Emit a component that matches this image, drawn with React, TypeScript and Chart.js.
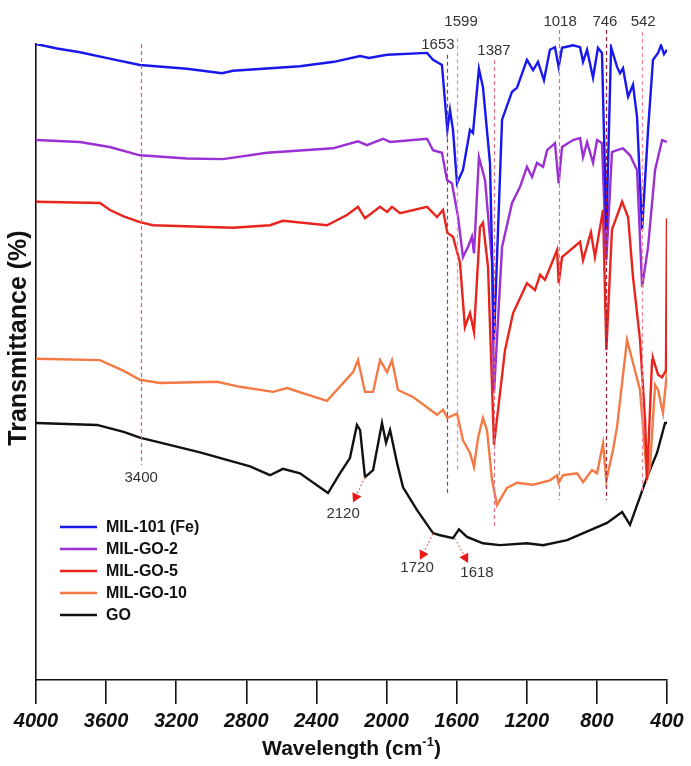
import React, { useEffect, useRef } from "react";
import { Chart, registerables } from "chart.js";

Chart.register(...registerables);

// ---- data (wavenumber in cm-1, transmittance in arbitrary % units) ----
const seriesNames = ["MIL-101 (Fe)", "MIL-GO-2", "MIL-GO-5", "MIL-GO-10", "GO"];

const mil101X = [4000, 3880, 3749, 3580, 3407, 3139, 2939, 2876, 2494, 2300, 2151, 2100, 1997, 1769, 1735, 1684, 1653, 1638, 1621, 1598, 1564, 1524, 1507, 1473, 1450, 1410, 1387, 1341, 1284, 1256, 1199, 1164, 1136, 1102, 1068, 1039, 1018, 999, 936, 896, 879, 856, 822, 794, 771, 746, 719, 685, 668, 651, 622, 594, 571, 542, 508, 480, 451, 434, 417, 400];
const mil101Y = [100, 99.3, 98.7, 97.7, 96.7, 96.1, 95.4, 95.8, 96.5, 97.2, 98.1, 97.8, 98.3, 98.6, 97.5, 96.7, 86.5, 89.6, 86.5, 78.1, 80.2, 86.5, 86.0, 96.1, 93.2, 81.3, 53.5, 88.1, 92.5, 93.1, 97.5, 95.9, 97.2, 94.3, 99.1, 99.5, 96.4, 99.4, 99.8, 99.5, 97.2, 99.1, 94.7, 99.4, 98.6, 70.8, 99.5, 96.4, 95.4, 96.2, 91.7, 93.6, 88.5, 70.8, 86.5, 97.5, 98.6, 99.8, 98.4, 99.1];

const go2X = [4000, 3749, 3580, 3407, 3139, 2933, 2682, 2306, 2163, 2112, 2020, 1980, 1769, 1735, 1684, 1655, 1627, 1592, 1564, 1535, 1513, 1501, 1473, 1438, 1398, 1387, 1341, 1284, 1239, 1199, 1170, 1142, 1107, 1084, 1039, 1018, 999, 936, 896, 879, 856, 822, 799, 771, 746, 714, 685, 651, 611, 571, 542, 508, 468, 428, 400];
const go2Y = [84.9, 84.6, 83.8, 82.5, 82.0, 81.9, 82.9, 83.6, 84.7, 84.1, 85.1, 84.6, 85.1, 83.3, 82.9, 78.6, 78.1, 72.8, 66.5, 68.1, 69.7, 67.1, 82.2, 78.6, 65.6, 45.1, 68.1, 75.0, 77.5, 80.7, 79.1, 81.3, 80.7, 83.3, 84.4, 78.1, 83.8, 84.9, 85.2, 82.2, 84.6, 81.3, 84.9, 84.4, 66.0, 83.0, 83.3, 83.6, 82.5, 80.2, 61.8, 68.1, 80.2, 84.9, 84.6];

const go5X = [4000, 3635, 3578, 3500, 3407, 3332, 2876, 2665, 2591, 2340, 2226, 2163, 2123, 2037, 1997, 1969, 1923, 1769, 1712, 1678, 1653, 1621, 1581, 1553, 1524, 1501, 1467, 1450, 1421, 1387, 1324, 1278, 1199, 1153, 1124, 1096, 1027, 1018, 999, 896, 879, 834, 811, 765, 746, 714, 656, 622, 594, 554, 525, 514, 485, 480, 451, 428, 406, 400];
const go5Y = [75.2, 75.0, 73.9, 72.9, 72.0, 71.5, 71.1, 71.5, 72.2, 71.5, 73.1, 74.4, 72.6, 74.4, 73.6, 74.4, 73.4, 74.4, 72.8, 73.9, 70.3, 69.7, 65.6, 55.5, 57.7, 54.7, 71.2, 71.9, 64.9, 37.0, 51.9, 57.7, 62.4, 61.3, 63.7, 62.9, 67.6, 62.4, 66.5, 68.9, 66.0, 70.4, 66.5, 73.9, 51.9, 70.8, 75.2, 72.8, 63.4, 53.5, 40.9, 31.4, 50.3, 50.6, 48.0, 47.6, 48.7, 72.6];

const go10X = [4000, 3635, 3500, 3407, 3293, 2967, 2836, 2648, 2568, 2340, 2191, 2163, 2123, 2077, 2037, 1997, 1969, 1935, 1849, 1712, 1678, 1653, 1598, 1564, 1524, 1501, 1478, 1450, 1427, 1398, 1370, 1313, 1256, 1164, 1068, 1027, 1018, 993, 913, 879, 828, 799, 765, 746, 708, 685, 628, 600, 554, 514, 497, 468, 451, 423, 400];
const go10Y = [50.5, 50.3, 48.6, 47.2, 46.7, 46.9, 46.1, 45.3, 45.9, 43.9, 48.4, 50.3, 45.3, 45.3, 50.3, 48.4, 50.3, 45.6, 44.5, 41.7, 42.5, 41.2, 41.9, 37.7, 35.7, 33.5, 38.1, 41.2, 39.3, 31.4, 27.5, 30.2, 31.0, 30.7, 31.4, 32.2, 31.0, 32.2, 32.5, 31.1, 33.0, 32.5, 37.2, 31.4, 36.2, 39.8, 53.5, 50.5, 45.6, 31.9, 33.5, 46.4, 45.6, 42.0, 48.5];

const goX = [4000, 3652, 3500, 3407, 3064, 2779, 2665, 2591, 2494, 2334, 2266, 2209, 2169, 2151, 2123, 2077, 2026, 2003, 1980, 1940, 1906, 1826, 1735, 1700, 1621, 1587, 1541, 1450, 1353, 1199, 1107, 970, 742, 656, 611, 514, 457, 411, 400];
const goY = [40.4, 40.1, 39.0, 38.1, 35.8, 33.6, 32.2, 33.2, 32.5, 29.4, 32.5, 34.9, 40.1, 39.3, 31.9, 33.0, 40.4, 37.3, 39.3, 34.1, 30.3, 26.7, 23.1, 22.8, 22.3, 23.7, 22.5, 21.5, 21.2, 21.5, 21.2, 22.0, 24.7, 26.4, 24.4, 31.9, 35.7, 40.4, 40.4];

const xTicks = [4000, 3600, 3200, 2800, 2400, 2000, 1600, 1200, 800, 400];

// marked bands (dashed vertical guides)
const peakPositions = [3400, 1653, 1599, 1387, 1018, 746, 542];
const peakLabels = ["3400", "1653", "1599", "1387", "1018", "746", "542"];
const peakLineTop = [100, 98.3, 100.9, 97.5, 102.2, 102.2, 101.9];
const peakLineBottom = [33.8, 29.1, 32.7, 24.1, 28.3, 28.3, 29.4];
const peakLabelX = [3400, 1707, 1575, 1387, 1010, 754, 536];
const peakLabelY = [31.8, 99.8, 103.5, 98.9, 103.5, 103.5, 103.5];

// GO annotations with arrows
const goNoteLabels = ["2120", "1720", "1618"];
const goNoteFromX = [2123, 1735, 1610];
const goNoteFromY = [31.9, 23.0, 22.3];
const goNoteToX = [2191, 1809, 1535];
const goNoteToY = [27.9, 18.9, 18.4];
const goNoteLabelX = [2248, 1826, 1484];
const goNoteLabelY = [26.1, 17.6, 16.8];

const FONT = "'Liberation Sans', Arial, Helvetica, sans-serif";
const colors = ["#1717ee", "#9b30d4", "#e8241d", "#f47a45", "#111111"];
const peakLineColors = ["#e06060", "#b0304a", "#f08a9a", "#e0708a", "#e0708a", "#a0203a", "#f08a9a"];

function toPoints(xs: number[], ys: number[]) {
  return xs.map((x, i) => ({ x, y: ys[i] }));
}

const overlayPlugin = {
  id: "ftirOverlay",
  afterDatasetsDraw(chart: any) {
    const { ctx } = chart;
    const xs = chart.scales.x;
    const ys = chart.scales.y;
    ctx.save();
    peakPositions.forEach((p, i) => {
      const x = Math.round(xs.getPixelForValue(p)) + 0.5;
      ctx.strokeStyle = peakLineColors[i];
      ctx.lineWidth = 1.2;
      ctx.setLineDash([4, 3]);
      ctx.beginPath();
      ctx.moveTo(x, ys.getPixelForValue(peakLineTop[i]));
      ctx.lineTo(x, ys.getPixelForValue(peakLineBottom[i]));
      ctx.stroke();
    });
    ctx.setLineDash([]);
    ctx.fillStyle = "#333";
    ctx.font = `15px ${FONT}`;
    ctx.textAlign = "center";
    ctx.textBaseline = "middle";
    peakLabels.forEach((t, i) => {
      ctx.fillText(t, xs.getPixelForValue(peakLabelX[i]), ys.getPixelForValue(peakLabelY[i]));
    });
    goNoteLabels.forEach((t, i) => {
      const x1 = xs.getPixelForValue(goNoteFromX[i]);
      const y1 = ys.getPixelForValue(goNoteFromY[i]);
      const x2 = xs.getPixelForValue(goNoteToX[i]);
      const y2 = ys.getPixelForValue(goNoteToY[i]);
      const ang = Math.atan2(y2 - y1, x2 - x1);
      const head = 9;
      const bx = x2 - head * Math.cos(ang);
      const by = y2 - head * Math.sin(ang);
      ctx.strokeStyle = "#f07070";
      ctx.lineWidth = 1.2;
      ctx.setLineDash([2, 2]);
      ctx.beginPath();
      ctx.moveTo(x1, y1);
      ctx.lineTo(bx, by);
      ctx.stroke();
      ctx.setLineDash([]);
      ctx.fillStyle = "#e81818";
      ctx.beginPath();
      ctx.moveTo(x2, y2);
      ctx.lineTo(bx + 5 * Math.sin(ang), by - 5 * Math.cos(ang));
      ctx.lineTo(bx - 5 * Math.sin(ang), by + 5 * Math.cos(ang));
      ctx.closePath();
      ctx.fill();
      ctx.fillStyle = "#333";
      ctx.font = `15px ${FONT}`;
      ctx.fillText(t, xs.getPixelForValue(goNoteLabelX[i]), ys.getPixelForValue(goNoteLabelY[i]));
    });
    ctx.restore();
  },
  afterDraw(chart: any) {
    const { ctx, chartArea } = chart;
    ctx.save();
    const rowY0 = 527;
    const rowGap = 22;
    chart.data.datasets.forEach((ds: any, i: number) => {
      const y = rowY0 + i * rowGap;
      ctx.strokeStyle = ds.borderColor;
      ctx.lineWidth = 2.5;
      ctx.beginPath();
      ctx.moveTo(60, y);
      ctx.lineTo(97, y);
      ctx.stroke();
      ctx.fillStyle = "#111";
      ctx.font = `bold 16px ${FONT}`;
      ctx.textAlign = "left";
      ctx.textBaseline = "middle";
      ctx.fillText(ds.label, 106, y + 1);
    });
    const cx = (chartArea.left + chartArea.right) / 2;
    const ty = 749;
    ctx.fillStyle = "#111";
    ctx.textBaseline = "middle";
    ctx.textAlign = "left";
    const big = `bold 21px ${FONT}`;
    const small = `bold 13px ${FONT}`;
    const p1 = "Wavelength (cm";
    const sup = "-1";
    const p3 = ")";
    ctx.font = big;
    const w1 = ctx.measureText(p1).width;
    const w3 = ctx.measureText(p3).width;
    ctx.font = small;
    const w2 = ctx.measureText(sup).width;
    let sx = cx - (w1 + w2 + w3) / 2;
    ctx.font = big;
    ctx.fillText(p1, sx, ty);
    sx += w1;
    ctx.font = small;
    ctx.fillText(sup, sx, ty - 7);
    sx += w2;
    ctx.font = big;
    ctx.fillText(p3, sx, ty);
    ctx.translate(19, 338);
    ctx.rotate(-Math.PI / 2);
    ctx.textAlign = "center";
    ctx.font = `bold 25px ${FONT}`;
    ctx.fillText("Transmittance (%)", 0, 0);
    ctx.restore();
  },
};

export default function App() {
  const canvasRef = useRef<HTMLCanvasElement | null>(null);

  useEffect(() => {
    if (!canvasRef.current) return;
    const xsList = [mil101X, go2X, go5X, go10X, goX];
    const ysList = [mil101Y, go2Y, go5Y, go10Y, goY];
    const chart = new Chart(canvasRef.current, {
      type: "line",
      data: {
        datasets: seriesNames.map((name, i) => ({
          label: name,
          data: toPoints(xsList[i], ysList[i]),
          borderColor: colors[i],
          backgroundColor: colors[i],
          borderWidth: 2.4,
          pointRadius: 0,
          tension: 0,
          fill: false,
        })),
      },
      options: {
        animation: false,
        responsive: false,
        maintainAspectRatio: false,
        layout: { padding: { left: 0, right: 24, top: 44, bottom: 0 } },
        plugins: {
          legend: { display: false },
          tooltip: { enabled: false },
          title: { display: false },
        },
        scales: {
          x: {
            type: "linear",
            reverse: true,
            min: 400,
            max: 4000,
            afterBuildTicks: (scale: any) => {
              scale.ticks = xTicks.map((v) => ({ value: v }));
            },
            afterFit: (scale: any) => {
              scale.height = 86;
            },
            border: { display: true, color: "#111", width: 1.6 },
            grid: {
              display: true,
              drawOnChartArea: false,
              drawTicks: true,
              tickLength: 24,
              color: "#111",
              lineWidth: 1.6,
            },
            ticks: {
              color: "#111",
              padding: 5,
              maxRotation: 0,
              autoSkip: false,
              callback: (v: any) => String(v),
              font: { family: FONT, size: 20, weight: "bold", style: "italic" },
            },
          },
          y: {
            type: "linear",
            min: 0,
            max: 100,
            afterFit: (scale: any) => {
              scale.width = 36;
            },
            border: { display: true, color: "#111", width: 1.6 },
            grid: { display: false, drawTicks: false },
            ticks: { display: false },
          },
        },
      },
      plugins: [overlayPlugin],
    } as any);
    return () => chart.destroy();
  }, []);

  return (
    <div style={{ position: "fixed", left: 0, top: 0, width: 691, height: 766, background: "#fff" }}>
      <canvas ref={canvasRef} width={691} height={766} style={{ width: 691, height: 766, display: "block" }} />
    </div>
  );
}
